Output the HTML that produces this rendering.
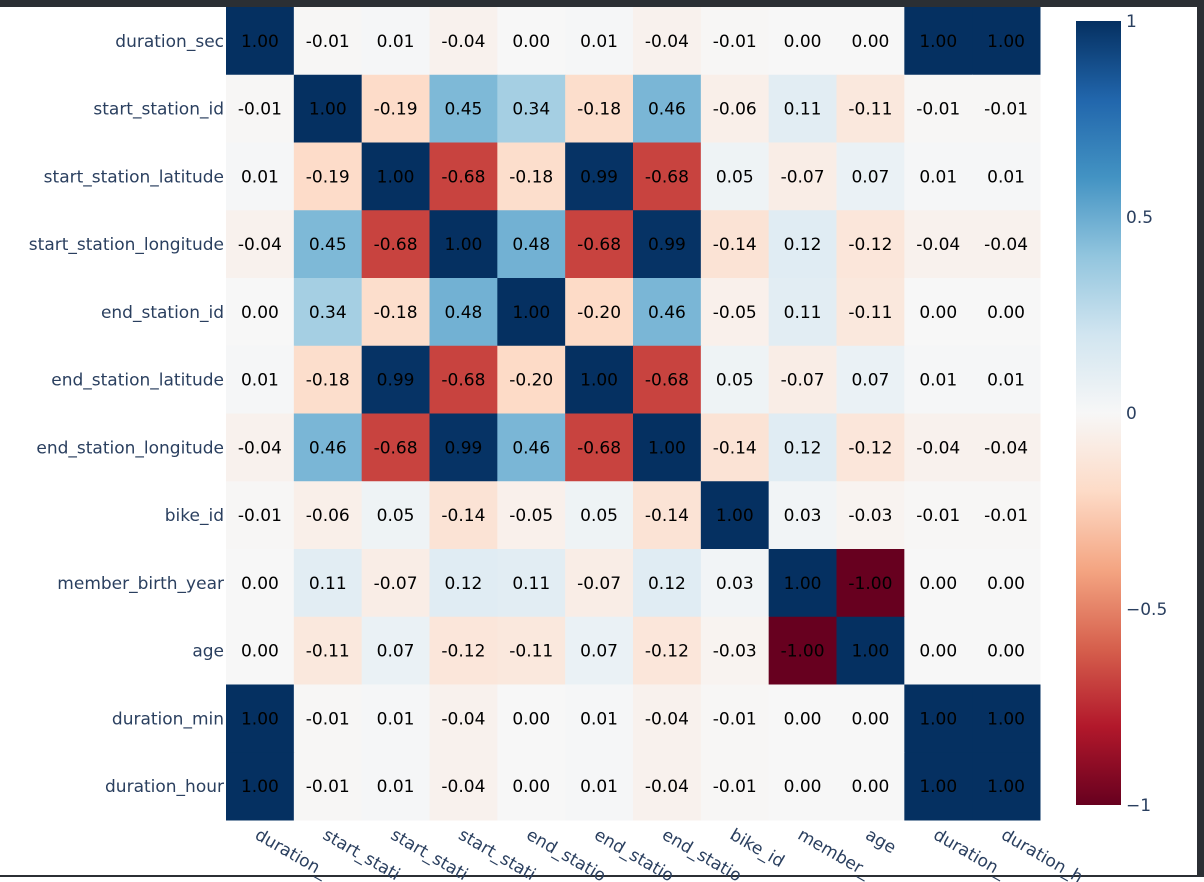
<!DOCTYPE html>
<html><head><meta charset="utf-8"><style>
html,body{margin:0;padding:0;background:#fff;}
body{width:1204px;height:877px;overflow:hidden;position:relative;font-family:"DejaVu Sans",sans-serif;}
</style></head><body>
<div style="position:absolute;left:0;top:0;width:1204px;height:7px;background:#2b2f34"></div>
<div style="position:absolute;left:1197px;top:0;width:7px;height:877px;background:#2b2f34"></div>
<div style="position:absolute;left:0;top:875px;width:1204px;height:2px;background:#2b2f34"></div>
<svg id="chart" width="1197" height="875" style="position:absolute;left:0;top:7px;overflow:hidden;font-family:'DejaVu Sans',sans-serif">
<defs><linearGradient id="cbg" x1="0" y1="1" x2="0" y2="0">
<stop offset="0" stop-color="rgb(103,0,31)"/><stop offset="0.1" stop-color="rgb(178,24,43)"/><stop offset="0.2" stop-color="rgb(214,96,77)"/><stop offset="0.3" stop-color="rgb(244,165,130)"/><stop offset="0.4" stop-color="rgb(253,219,199)"/><stop offset="0.5" stop-color="rgb(247,247,247)"/><stop offset="0.6" stop-color="rgb(209,229,240)"/><stop offset="0.7" stop-color="rgb(146,197,222)"/><stop offset="0.8" stop-color="rgb(67,147,195)"/><stop offset="0.9" stop-color="rgb(33,102,172)"/><stop offset="1" stop-color="rgb(5,48,97)"/>
</linearGradient></defs>
</svg>
<script>
const labels=["duration_sec","start_station_id","start_station_latitude","start_station_longitude","end_station_id","end_station_latitude","end_station_longitude","bike_id","member_birth_year","age","duration_min","duration_hour"];
const xLabelsShown=["duration_","start_stati","start_stati","start_stati","end_statio","end_statio","end_statio","bike_id","member_","age","duration_","duration_h"];
const values=[
[1.00,-0.01,0.01,-0.04,0.00,0.01,-0.04,-0.01,0.00,0.00,1.00,1.00],
[-0.01,1.00,-0.19,0.45,0.34,-0.18,0.46,-0.06,0.11,-0.11,-0.01,-0.01],
[0.01,-0.19,1.00,-0.68,-0.18,0.99,-0.68,0.05,-0.07,0.07,0.01,0.01],
[-0.04,0.45,-0.68,1.00,0.48,-0.68,0.99,-0.14,0.12,-0.12,-0.04,-0.04],
[0.00,0.34,-0.18,0.48,1.00,-0.20,0.46,-0.05,0.11,-0.11,0.00,0.00],
[0.01,-0.18,0.99,-0.68,-0.20,1.00,-0.68,0.05,-0.07,0.07,0.01,0.01],
[-0.04,0.46,-0.68,0.99,0.46,-0.68,1.00,-0.14,0.12,-0.12,-0.04,-0.04],
[-0.01,-0.06,0.05,-0.14,-0.05,0.05,-0.14,1.00,0.03,-0.03,-0.01,-0.01],
[0.00,0.11,-0.07,0.12,0.11,-0.07,0.12,0.03,1.00,-1.00,0.00,0.00],
[0.00,-0.11,0.07,-0.12,-0.11,0.07,-0.12,-0.03,-1.00,1.00,0.00,0.00],
[1.00,-0.01,0.01,-0.04,0.00,0.01,-0.04,-0.01,0.00,0.00,1.00,1.00],
[1.00,-0.01,0.01,-0.04,0.00,0.01,-0.04,-0.01,0.00,0.00,1.00,1.00]];
const cbTicks=[1,0.5,0,-0.5,-1];
const cbTickLabels=["1","0.5","0","\u22120.5","\u22121"];

const NS="http://www.w3.org/2000/svg";
const svg=document.getElementById('chart');
const OY=7;
const X0=226,X1=1040,Y0=7-OY,Y1=820-OY;
const n=labels.length, cw=(X1-X0)/n, ch=(Y1-Y0)/n;
const xs=i=>X0+i*cw, ys=j=>Y0+j*ch;
const scale=[[0,[103,0,31]],[0.1,[178,24,43]],[0.2,[214,96,77]],[0.3,[244,165,130]],[0.4,[253,219,199]],[0.5,[247,247,247]],[0.6,[209,229,240]],[0.7,[146,197,222]],[0.8,[67,147,195]],[0.9,[33,102,172]],[1,[5,48,97]]];
function color(v){let t=(v+1)/2;t=Math.max(0,Math.min(1,t));for(let k=1;k<scale.length;k++){if(t<=scale[k][0]){const a=scale[k-1],b=scale[k];const f=(t-a[0])/(b[0]-a[0]);const c=a[1].map((x,i)=>Math.round(x+(b[1][i]-x)*f));return `rgb(${c})`;}}return 'rgb(5,48,97)';}
function mk(tag,attrs){const e=document.createElementNS(NS,tag);for(const k in attrs)e.setAttribute(k,attrs[k]);return e;}
for(let r=0;r<n;r++)for(let c=0;c<n;c++){
 const v=values[r][c];
 const rect=mk('rect',{x:xs(c),y:ys(r),width:cw+0.5,height:ch+0.5,fill:color(v)});
 
 
 svg.appendChild(rect);
}
for(let r=0;r<n;r++)for(let c=0;c<n;c++){
 const t=mk('text',{x:xs(c)+cw/2,y:ys(r)+ch/2+6,'text-anchor':'middle','font-size':'17',fill:'#000'});
 t.textContent=values[r][c].toFixed(2);
 
 
 svg.appendChild(t);
}
for(let r=0;r<n;r++){
 const t=mk('text',{x:X0-2,y:ys(r)+ch/2+6,'text-anchor':'end','font-size':'17',fill:'#2a3f5f'});
 t.textContent=labels[r];
 
 
 svg.appendChild(t);
}
for(let c=0;c<n;c++){
 const x=xs(c)+cw/2-6,y=Y1+18;
 const t=mk('text',{x:x,y:y,'font-size':'17',fill:'#2a3f5f',transform:`rotate(30 ${x} ${y})`});
 t.textContent=xLabelsShown[c];
 
 
 svg.appendChild(t);
}
const CB0=21-OY,CB1=805-OY,CBX=1076,CBW=45;
const cb=mk('rect',{x:CBX,y:CB0,width:CBW,height:CB1-CB0,fill:'url(#cbg)'});


svg.appendChild(cb);
const cy=v=>CB0+(1-(v+1)/2)*(CB1-CB0);
cbTicks.forEach((v,i)=>{
 const t=mk('text',{x:CBX+CBW+5,y:cy(v)+6,'font-size':'17',fill:'#2a3f5f'});
 t.textContent=cbTickLabels[i];
 
 
 svg.appendChild(t);
});
</script>
</body></html>
